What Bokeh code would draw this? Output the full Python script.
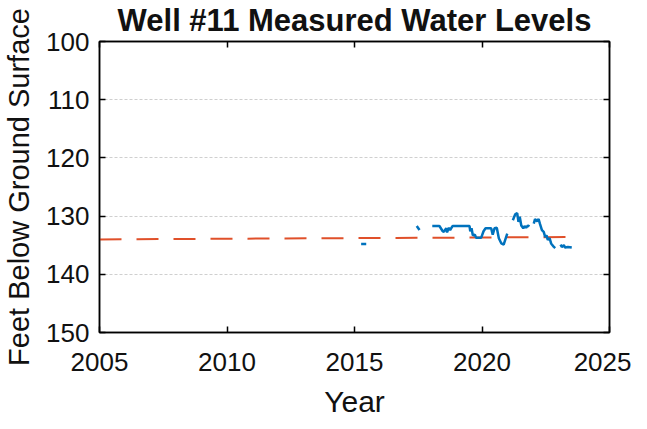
import math
from bokeh.plotting import figure
from bokeh.models import Range1d, FixedTicker, LinearAxis, CustomLabelingPolicy
from bokeh.embed import file_html
from bokeh.resources import INLINE

nan = math.nan

# Measured water levels (feet below ground surface); NaN marks gaps in record
obs_year = [2015.26, 2015.46, nan,
            2017.44, 2017.55, nan,
            2018.05, 2018.33, 2018.46, 2018.50, 2018.60, 2018.63, 2018.70, 2018.75,
            2018.83, 2018.85, 2019.51, 2019.54, 2019.59, 2019.64, 2019.72, 2019.77,
            2019.97, 2020.06, 2020.14, 2020.36, 2020.42, 2020.49, 2020.58, 2020.66,
            2020.76, 2020.85, 2020.99, nan,
            2021.21, 2021.30, 2021.38, 2021.43, 2021.48, 2021.54, 2021.62, 2021.67,
            2021.73, 2021.80, 2021.86, nan,
            2022.03, 2022.08, 2022.16, 2022.22, 2022.27, 2022.35, 2022.42, 2022.48,
            2022.53, 2022.58, 2022.65, 2022.71, 2022.82, 2022.87, nan,
            2023.08, 2023.13, 2023.21, 2023.26, 2023.37, 2023.52]
obs_level = [134.8, 134.8, nan,
             131.7, 132.4, nan,
             131.7, 131.7, 132.6, 132.7, 132.1, 132.8, 132.0, 132.4,
             131.8, 131.7, 131.7, 132.6, 132.1, 133.3, 133.2, 133.7,
             133.7, 132.6, 132.1, 132.1, 133.2, 132.1, 132.0, 133.8,
             134.7, 134.9, 133.0, nan,
             130.7, 129.7, 129.5, 131.0, 130.1, 131.6, 132.1, 131.7,
             132.0, 131.6, 131.8, nan,
             131.3, 130.5, 130.9, 130.5, 131.3, 132.4, 132.7, 133.6,
             133.3, 134.1, 133.8, 134.7, 135.3, 135.5, nan,
             134.9, 135.3, 135.0, 135.4, 135.3, 135.4]

# Trend line
trend_year = [2005.0, 2023.47]
trend_level = [134.0, 133.6]

x_ticks = [2005, 2010, 2015, 2020, 2025]
y_ticks = [100, 110, 120, 130, 140, 150]

FONT = "Liberation Sans"

p = figure(width=631, height=428, output_backend="svg", toolbar_location=None,
           x_range=Range1d(2005, 2025), y_range=Range1d(150, 100),
           min_border_left=99, min_border_right=22, min_border_top=41,
           min_border_bottom=96,
           title="Well #11 Measured Water Levels")

p.title.text_font = FONT
p.title.text_font_size = "31px"
p.title.text_font_style = "bold"
p.title.align = "center"
p.title.text_color = "#111111"
p.title.standoff = 0
p.title.offset = 0

p.background_fill_color = "white"
p.border_fill_color = "white"
p.outline_line_color = "black"
p.outline_line_width = 1.5

for ax in (p.xaxis[0], p.yaxis[0]):
    ax.major_label_text_font = FONT
    ax.major_label_text_font_size = "26px"
    ax.major_label_text_color = "#111111"
    ax.axis_label_text_font = FONT
    ax.axis_label_text_font_style = "normal"
    ax.axis_label_text_color = "#111111"
    ax.major_tick_in = 6
    ax.major_tick_out = 0
    ax.minor_tick_line_color = None
    ax.axis_line_width = 1.5
    ax.major_tick_line_width = 1.5

p.xaxis[0].ticker = FixedTicker(ticks=x_ticks)
p.yaxis[0].ticker = FixedTicker(ticks=y_ticks)
p.xaxis[0].axis_label = "Year"
p.yaxis[0].axis_label = "Feet Below Ground Surface"
p.xaxis[0].axis_label_text_font_size = "30px"
p.yaxis[0].axis_label_text_font_size = "29px"
p.xaxis[0].major_label_standoff = 20
p.xaxis[0].axis_label_standoff = 11
p.yaxis[0].major_label_standoff = 10
p.yaxis[0].axis_label_standoff = 8


def mirror_axis(ticks):
    return LinearAxis(ticker=FixedTicker(ticks=ticks),
                      major_label_policy=CustomLabelingPolicy(code="return []"),
                      major_label_text_font_size="1px",
                      major_tick_in=6, major_tick_out=0, major_label_standoff=0,
                      minor_tick_line_color=None, axis_line_width=1.5,
                      major_tick_line_width=1.5)


p.add_layout(mirror_axis(x_ticks), "above")
p.add_layout(mirror_axis(y_ticks), "right")

p.xgrid.grid_line_color = None
p.ygrid.grid_line_color = "#cfcfcf"
p.ygrid.grid_line_dash = "3 2"
p.ygrid.grid_line_width = 1

p.line(trend_year, trend_level, line_color="#E0502A", line_width=2, line_dash="22 15")
p.line(obs_year, obs_level, line_color="#0072BD", line_width=2.5)

open("out.html", "w").write(file_html(p, INLINE))
